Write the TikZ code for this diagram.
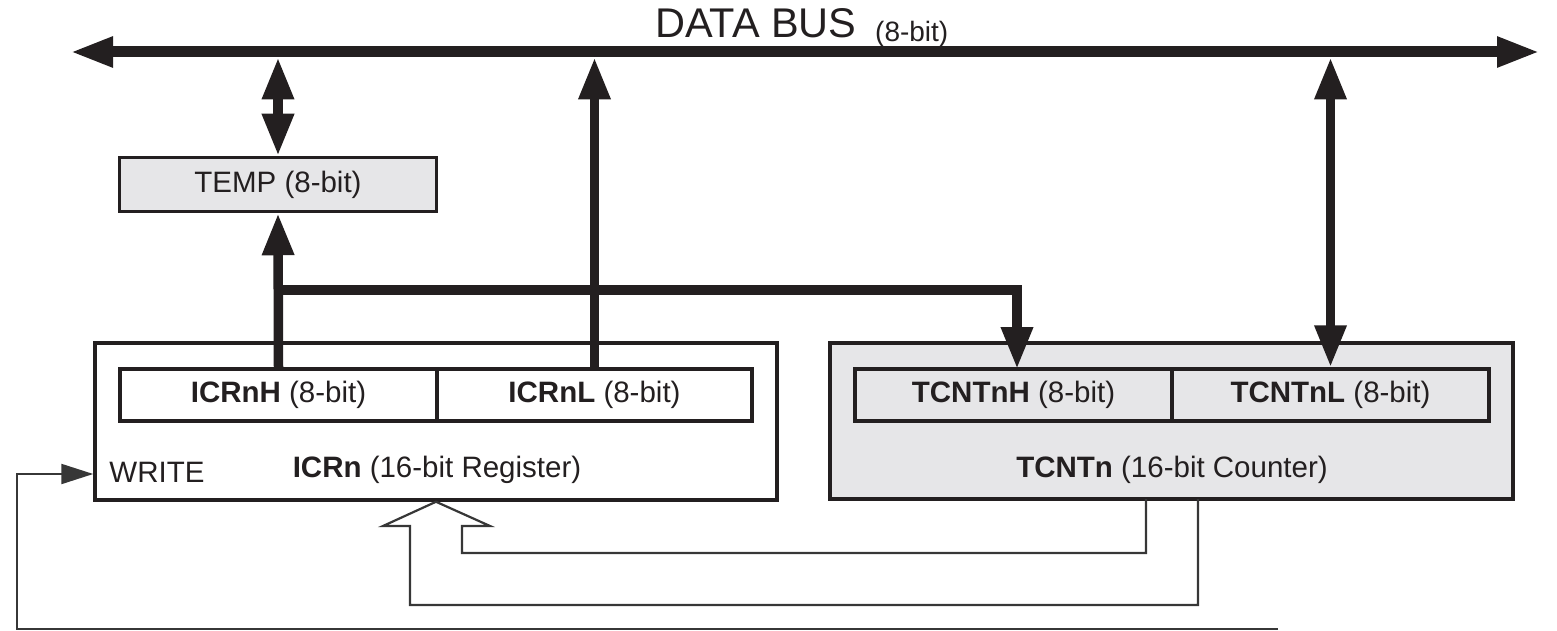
\documentclass[tikz,border=0pt]{standalone}
\usepackage{fontspec}
\setmainfont{Liberation Sans}
\usetikzlibrary{arrows.meta,calc}
\definecolor{boxgray}{RGB}{230,230,232}
\definecolor{ink}{RGB}{35,31,32}
\definecolor{thinink}{RGB}{55,55,55}
\begin{document}
\begin{tikzpicture}[x=1pt,y=-1pt,
  bustip/.tip={Triangle[length=43pt,width=28pt]},
  ctip/.tip={Triangle[length=42pt,width=30pt]},
  wtip/.tip={Triangle[length=32pt,width=20pt]},
  busline/.style={draw=ink,line width=11pt},
  conn/.style={draw=ink,line width=9.5pt,line join=miter},
  thinline/.style={draw=thinink,line width=2.2pt,line join=miter},
  outerbox/.style={draw=ink,line width=3.5pt,inner sep=0pt},
  regbox/.style={draw=ink,line width=3.5pt,inner sep=0pt,minimum height=52pt,
    font=\fontsize{29.5}{33}\selectfont,text=ink},
  lbl/.style={inner sep=0pt,font=\fontsize{29.5}{33}\selectfont,text=ink,anchor=base}]
\useasboundingbox (0,0) rectangle (1557,631);

% data bus
\coordinate (busL) at (70,52);
\coordinate (busR) at (1540,52);
\coordinate (busB) at (0,57.5);
\draw[busline,{bustip}-{bustip}] (busL) -- (busR);
\node[inner sep=0pt,anchor=base west,font=\fontsize{41.5}{45}\selectfont,text=ink] (bustitle) at (655,37.5) {DATA BUS};
\node[inner sep=0pt,anchor=base west,font=\fontsize{28}{32}\selectfont,text=ink] (busbits) at (875,42) {(8-bit)};

% TEMP
\node[regbox,fill=boxgray,minimum width=317pt,minimum height=54pt] (temp) at (278,184.5) {TEMP (8-bit)};

% ICRn register
\node[outerbox,fill=white,minimum width=682pt,minimum height=157pt] (icrn) at (436,421.5) {};
\node[regbox,fill=white,minimum width=317pt] (icrnh) at (278.5,395) {\textbf{ICRnH} (8-bit)};
\node[regbox,fill=white,minimum width=315pt] (icrnl) at (594.5,395) {\textbf{ICRnL} (8-bit)};
\node[lbl] (write) at (157,482) {WRITE};
\node[lbl] (icrntxt) at (437,477) {\textbf{ICRn} (16-bit Register)};

% TCNTn counter
\node[outerbox,fill=boxgray,minimum width=683pt,minimum height=156pt] (tcntn) at (1171.5,421) {};
\node[regbox,fill=boxgray,minimum width=317pt] (tcnth) at (1013.5,395) {\textbf{TCNTnH} (8-bit)};
\node[regbox,fill=boxgray,minimum width=317pt] (tcntl) at (1330.5,395) {\textbf{TCNTnL} (8-bit)};
\node[lbl] (tcnttxt) at (1172,477) {\textbf{TCNTn} (16-bit Counter)};

% bus connections
\draw[conn,{ctip}-{ctip}] (temp.north |- busB) -- (temp.north);
\draw[conn,-{ctip}] (icrnh.north) -- (temp.south);
\coordinate (branch) at (278.5,290);
\coordinate (tcnthin) at (1017,369);
\draw[conn,-{ctip}] (branch) -| (tcnthin);
\draw[conn,-{ctip}] (icrnl.north) -- (icrnl.north |- busB);
\draw[conn,{ctip}-{ctip}] (tcntl.north |- busB) -- (tcntl.north);

% hollow arrow from TCNTn to ICRn
\draw[thinline] (1146,499) -- (1146,553) -- (462,553) -- (462,526) -- (490,526)
  -- (icrn.south) -- (383,526) -- (410,526) -- (410,605) -- (1198,605) -- (1198,499);

% WRITE line
\coordinate (wend) at (1278,629);
\coordinate (wup) at (17,474);
\draw[thinline,-{wtip}] (wend) -| (wup) -- (wup -| icrn.west);
\end{tikzpicture}
\end{document}
